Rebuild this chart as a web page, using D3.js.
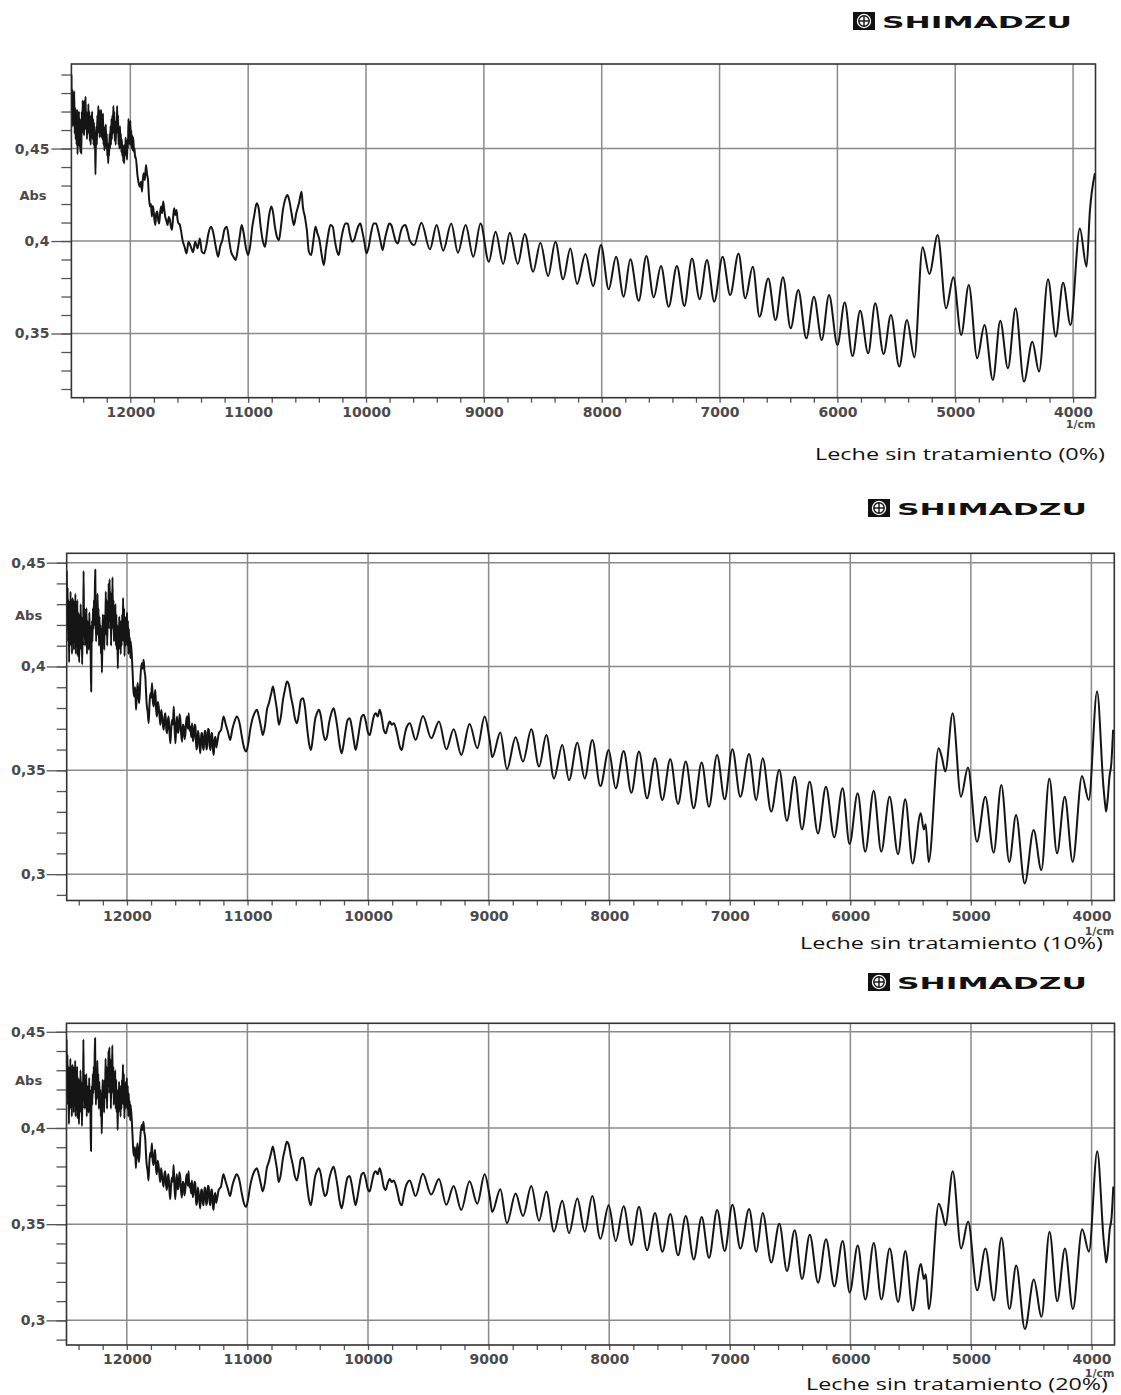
<!DOCTYPE html>
<html>
<head>
<meta charset="utf-8">
<script src="https://cdn.jsdelivr.net/npm/d3@7"></script>
<style>
    body { margin: 0; background: #fff; }
    svg { display: block; }
    .tick text { font-family: "DejaVu Sans", sans-serif; font-weight: bold; fill: #4a4a4a; }
    .tick line { stroke: #555; stroke-width: 1.3; }
</style>
</head>
<body>
<div id="chart"></div>
<script>
// ---- data: [wavenumber (1/cm), Abs] ----
const xMajor = [12000, 11000, 10000, 9000, 8000, 7000, 6000, 5000, 4000];
const yMajor0 = [0.35, 0.4, 0.45];
const yLabels0 = ["0,35", "0,4", "0,45"];
const yMajor10 = [0.3, 0.35, 0.4, 0.45];
const yLabels10 = ["0,3", "0,35", "0,4", "0,45"];
const captions = ["Leche sin tratamiento (0%)", "Leche sin tratamiento (10%)", "Leche sin tratamiento (20%)"];

const spec0 = [
    [12500,0.490],[12496,0.470],[12492,0.482],[12488,0.462],[12484,0.476],[12480,0.466],[12476,0.481],[12472,0.458],
    [12468,0.472],[12464,0.455],[12460,0.468],[12456,0.452],[12452,0.471],[12448,0.447],[12444,0.463],[12440,0.458],
    [12436,0.470],[12432,0.451],[12428,0.466],[12424,0.448],[12420,0.462],[12416,0.447],[12412,0.470],[12408,0.458],
    [12404,0.476],[12400,0.462],[12396,0.474],[12392,0.457],[12388,0.476],[12384,0.463],[12380,0.478],[12376,0.460],
    [12372,0.470],[12368,0.455],[12364,0.468],[12360,0.458],[12356,0.474],[12352,0.460],[12348,0.470],[12344,0.454],
    [12340,0.462],[12336,0.452],[12332,0.468],[12328,0.457],[12324,0.470],[12320,0.455],[12316,0.466],[12312,0.452],
    [12308,0.464],[12304,0.450],[12300,0.458],[12296,0.436],[12292,0.455],[12288,0.462],[12284,0.452],[12280,0.468],
    [12276,0.458],[12272,0.473],[12268,0.462],[12264,0.471],[12260,0.456],[12256,0.469],[12252,0.460],[12248,0.471],
    [12244,0.456],[12240,0.466],[12236,0.455],[12232,0.469],[12228,0.452],[12224,0.462],[12220,0.449],[12216,0.458],
    [12212,0.452],[12208,0.463],[12204,0.450],[12200,0.458],[12196,0.446],[12192,0.453],[12188,0.442],[12184,0.450],
    [12180,0.446],[12176,0.458],[12172,0.450],[12168,0.462],[12164,0.452],[12160,0.466],[12156,0.455],[12152,0.468],
    [12148,0.458],[12144,0.473],[12140,0.462],[12136,0.470],[12132,0.454],[12128,0.462],[12124,0.452],[12120,0.465],
    [12116,0.458],[12112,0.473],[12108,0.460],[12104,0.468],[12100,0.452],[12096,0.460],[12092,0.450],[12088,0.462],
    [12084,0.453],[12080,0.458],[12076,0.448],[12072,0.455],[12068,0.446],[12064,0.452],[12060,0.443],[12056,0.449],
    [12052,0.442],[12048,0.452],[12044,0.446],[12040,0.456],[12036,0.447],[12032,0.452],[12028,0.444],[12024,0.455],
    [12020,0.450],[12016,0.466],[12012,0.456],[12008,0.464],[12004,0.452],[12000,0.465],[11996,0.452],[11992,0.460],
    [11988,0.450],[11984,0.457],[11980,0.449],[11976,0.456],[11972,0.452],[11968,0.448],[11964,0.450],[11960,0.445],
    [11956,0.446],
    [11938,0.4348],[11928,0.4310],[11918,0.4294],[11909,0.4320],[11901,0.4267],[11894,0.4330],[11887,0.4366],[11877,0.4330],
    [11867,0.4411],[11858,0.4360],[11850,0.433],[11842,0.4240],[11834,0.4186],[11825,0.4200],[11817,0.4132],[11811,0.4190],
    [11805,0.4177],[11796,0.4120],[11788,0.4086],[11780,0.4150],[11771,0.4159],[11763,0.4110],[11755,0.4095],[11746,0.4160],
    [11738,0.4186],[11730,0.4150],[11721,0.4213],[11712,0.4170],[11704,0.4132],[11694,0.4110],[11684,0.4086],[11674,0.4130],
    [11664,0.4114],[11656,0.4080],[11647,0.406],[11638,0.4120],[11628,0.4177],[11618,0.4140],[11608,0.4168],[11600,0.4120],
    [11591,0.4095],[11581,0.4090],[11571,0.406],[11557,0.4005],[11540,0.3969],
    [11523,0.3933],[11506,0.3996],[11487,0.397],[11467,0.394],[11450,0.3996],[11430,0.396],[11410,0.4014],[11393,0.3942],
    [11374,0.3933],[11354,0.3978],[11337,0.4041],[11314,0.4077],[11295,0.4041],[11275,0.3969],[11255,0.3915],[11238,0.3969],
    [11219,0.4005],[11202,0.406],[11182,0.4077],[11162,0.4005],[11145,0.3942],[11125,0.3915],[11106,0.3897],[11089,0.3951],
    [11072,0.4023],[11055,0.4086],[11038,0.4041],[11021,0.3969],[11001,0.3924],[10984,0.3969],[10965,0.4077],[10948,0.414],
    [10928,0.4204],[10911,0.4177],[10894,0.4077],[10874,0.3996],[10857,0.3969],[10841,0.4041],[10824,0.4132],[10804,0.4186],
    [10790,0.4159],[10773,0.4077],[10756,0.4023],[10739,0.4005],[10722,0.4077],[10705,0.4168],[10683,0.4231],[10666,0.4249],
    [10649,0.4213],[10632,0.415],[10612,0.4086],[10592,0.415],[10569,0.4204],[10547,0.4267],[10536,0.4186],[10519,0.4132],
    [10502,0.4059],[10485,0.3942],[10465,0.3924],[10448,0.3996],[10429,0.4077],[10412,0.4041],[10395,0.4005],[10378,0.3933],
    [10358,0.387],[10341,0.3951],[10324,0.4023],[10302,0.4086],[10282,0.4077],[10265,0.4005],[10245,0.3942],[10231,0.3924],
    [10214,0.3996],[10195,0.4059],[10175,0.4095],[10155,0.4095],[10138,0.4041],[10118,0.3996],[10101,0.4005],[10085,0.4041],
    [10068,0.4077],[10048,0.4095],[10034,0.4059],[10014,0.3996],[9997,0.3933],[9977,0.3969],[9958,0.4041],[9935,0.4095],
    [9915,0.4095],[9898,0.4059],[9879,0.4005],[9859,0.3951],[9842,0.4005],[9822,0.4059],[9802,0.4095],[9785,0.4086],
    [9766,0.4041],[9746,0.3996],[9729,0.3987],[9709,0.4041],[9690,0.4077],[9667,0.4086],[9647,0.405],[9630,0.4005],
    [9591,0.3978],
    [9530,0.4099],[9458,0.3955],[9401,0.4086],[9345,0.3948],[9277,0.4095],[9220,0.3937],[9155,0.4086],[9090,0.3915],
    [9028,0.4095],[8958,0.3888],[8901,0.4050],[8836,0.3876],[8780,0.4045],[8712,0.3876],[8653,0.4038],[8582,0.3834],
    [8520,0.3991],[8455,0.3811],[8393,0.3996],[8328,0.3793],[8266,0.3960],[8209,0.3768],[8138,0.3930],[8073,0.3757],
    [8006,0.3978],[7941,0.3739],[7878,0.3915],[7814,0.3699],[7757,0.3901],[7686,0.3677],[7621,0.3919],[7559,0.3695],
    [7497,0.3865],[7432,0.3645],[7362,0.3865],[7299,0.3649],[7234,0.3906],[7169,0.3685],[7107,0.3897],[7045,0.3672],
    [6974,0.3915],[6910,0.3708],[6839,0.3933],[6782,0.3690],[6718,0.3861],[6661,0.3591],[6587,0.3798],[6525,0.3573],
    [6462,0.3804],[6397,0.3528],[6332,0.3735],[6264,0.3474],[6199,0.3699],[6133,0.3465],[6071,0.3708],[6000,0.3438],
    [5938,0.3667],[5872,0.3378],[5807,0.3623],[5739,0.3393],[5679,0.3663],[5608,0.3389],[5546,0.3600],[5475,0.3321],
    [5410,0.3573],[5347,0.3371],[5277,0.3966],[5220,0.3822],[5149,0.4032],[5078,0.3636],[5016,0.3804],[4950,0.3492],
    [4885,0.3762],[4814,0.3366],[4752,0.3546],[4681,0.3249],[4618,0.3569],[4553,0.3312],[4488,0.3636],[4417,0.3240],
    [4346,0.3456],[4289,0.3294],[4213,0.3793],[4147,0.3483],[4085,0.3775],[4022,0.3546],[3943,0.4068],[3886,0.3861],
    [3858,0.4159],[3815,0.4366]
];

const spec10 = [
    [12500,0.446],[12496,0.425],[12492,0.438],[12488,0.412],[12484,0.432],[12480,0.402],[12476,0.428],[12472,0.415],
    [12468,0.436],[12464,0.410],[12460,0.430],[12456,0.406],[12452,0.433],[12448,0.412],[12444,0.432],[12440,0.408],
    [12436,0.430],[12432,0.415],[12428,0.435],[12424,0.406],[12420,0.428],[12416,0.412],[12412,0.432],[12408,0.405],
    [12404,0.426],[12400,0.410],[12396,0.402],[12392,0.425],[12388,0.408],[12384,0.430],[12380,0.412],[12376,0.424],
    [12372,0.401],[12368,0.418],[12364,0.410],[12360,0.446],[12356,0.418],[12352,0.428],[12348,0.410],[12344,0.425],
    [12340,0.414],[12336,0.428],[12332,0.406],[12328,0.422],[12324,0.410],[12320,0.418],[12316,0.408],[12312,0.426],
    [12308,0.412],[12304,0.420],[12300,0.400],[12297,0.388],[12294,0.410],[12290,0.422],[12286,0.412],[12282,0.428],
    [12278,0.418],[12274,0.432],[12270,0.420],[12266,0.438],[12263,0.4466],[12260,0.425],[12256,0.412],[12252,0.428],
    [12248,0.415],[12244,0.435],[12240,0.418],[12236,0.428],[12232,0.410],[12228,0.424],[12224,0.412],[12220,0.420],
    [12216,0.406],[12212,0.418],[12208,0.397],[12204,0.412],[12200,0.425],[12196,0.414],[12192,0.422],[12188,0.408],
    [12184,0.425],[12180,0.415],[12176,0.436],[12172,0.420],[12168,0.432],[12164,0.410],[12160,0.428],[12156,0.418],
    [12152,0.440],[12148,0.422],[12144,0.442],[12140,0.418],[12136,0.436],[12132,0.410],[12128,0.430],[12124,0.420],
    [12120,0.443],[12116,0.418],[12112,0.432],[12108,0.412],[12104,0.428],[12100,0.415],[12096,0.430],[12092,0.410],
    [12088,0.425],[12084,0.408],[12080,0.420],[12076,0.399],[12072,0.416],[12068,0.408],[12064,0.424],[12060,0.410],
    [12056,0.422],[12052,0.406],[12048,0.420],[12044,0.410],[12040,0.425],[12036,0.415],[12032,0.433],[12028,0.412],
    [12024,0.428],[12020,0.405],[12016,0.420],[12012,0.410],[12008,0.424],[12004,0.412],[12000,0.426],[11996,0.410],
    [11992,0.422],[11988,0.406],[11984,0.418],[11980,0.408],[11976,0.414],[11972,0.404],[11968,0.412],
    [11953,0.3968],[11946,0.3880],[11939,0.3855],[11932,0.3900],[11925,0.3791],[11918,0.3870],[11911,0.392],[11904,0.3850],
    [11898,0.3823],[11888,0.3950],[11878,0.4016],[11870,0.3990],[11862,0.4032],[11855,0.3980],[11848,0.3952],[11842,0.3880],
    [11837,0.3823],[11828,0.3780],[11820,0.3727],[11813,0.3820],[11806,0.3871],[11799,0.3850],[11792,0.392],[11785,0.3830],
    [11778,0.3807],[11771,0.3860],[11765,0.3887],[11758,0.3790],[11751,0.3759],[11744,0.3830],[11737,0.3807],[11730,0.3760],
    [11723,0.3719],[11716,0.3790],[11709,0.3759],[11702,0.3720],[11695,0.3695],[11688,0.3760],[11681,0.3775],[11674,0.3700],
    [11668,0.3678],[11661,0.3740],[11654,0.3759],[11647,0.3680],[11640,0.363],[11633,0.3700],[11626,0.3743],[11619,0.3720],
    [11612,0.3807],[11605,0.3700],[11598,0.363],[11591,0.3720],[11585,0.3759],[11578,0.3680],[11571,0.3695],[11564,0.3770],
    [11557,0.3743],[11550,0.3670],[11543,0.3638],[11536,0.3720],[11529,0.3711],[11522,0.3650],[11515,0.3678],[11508,0.3740],
    [11501,0.3759],[11494,0.3700],[11488,0.3775],[11481,0.3690],[11474,0.3711],[11467,0.3660],[11460,0.3727],[11453,0.3640],
    [11446,0.3662],[11439,0.3720],[11432,0.3711],[11425,0.3600],[11418,0.3614],[11411,0.3690],[11404,0.3662],[11397,0.3610],
    [11391,0.3582],[11384,0.3680],[11377,0.3678],[11370,0.3610],[11363,0.3598],[11356,0.3690],[11349,0.3686],[11342,0.3600],
    [11335,0.3614],[11328,0.3700],[11321,0.3695],[11314,0.3620],[11307,0.3598],[11300,0.3680],[11294,0.3678],[11287,0.3600],
    [11280,0.3574],[11273,0.3650],[11266,0.3662],[11259,0.3610],[11252,0.363],
    [11238,0.3678],[11219,0.3695],[11199,0.3759],[11183,0.3727],[11163,0.3686],
    [11144,0.3646],[11127,0.3695],[11108,0.3735],[11089,0.3759],[11066,0.3727],[11047,0.3662],[11031,0.3614],[11011,0.359],
    [10994,0.363],[10978,0.3695],[10961,0.3743],[10942,0.3775],[10922,0.3791],[10906,0.3759],[10889,0.3711],[10873,0.367],
    [10856,0.3711],[10839,0.3791],[10823,0.3823],[10803,0.3871],[10789,0.3904],[10773,0.3855],[10756,0.3791],[10740,0.3719],
    [10723,0.3759],[10706,0.3839],[10690,0.3887],[10673,0.3928],[10657,0.3912],[10640,0.3855],[10623,0.3807],[10607,0.3751],
    [10590,0.3727],[10573,0.3775],[10557,0.3839],[10540,0.3847],[10524,0.3807],[10507,0.3711],[10490,0.363],[10474,0.3598],
    [10457,0.3662],[10440,0.3743],[10424,0.3775],[10407,0.3791],[10391,0.3759],[10374,0.3686],[10357,0.3646],[10341,0.3662],
    [10324,0.3727],[10305,0.3775],[10285,0.3799],[10269,0.3759],[10252,0.3695],[10236,0.3622],[10219,0.3582],[10202,0.363],
    [10186,0.3695],[10169,0.3743],[10152,0.3751],[10136,0.3711],[10119,0.3646],[10103,0.3598],[10086,0.3646],[10069,0.3711],
    [10053,0.3759],[10036,0.3767],[10019,0.3735],[10003,0.3686],[9986,0.367],[9970,0.3711],[9953,0.3759],[9936,0.3775],
    [9920,0.3759],[9903,0.3791],[9886,0.3751],[9870,0.3695],[9853,0.3678],[9837,0.3711],[9820,0.3735],[9803,0.3719],
    [9787,0.3727],[9770,0.3703],[9754,0.3662],[9737,0.3614],[9720,0.3598],[9704,0.3646],[9687,0.3695],[9670,0.3719],
    [9654,0.3727],
    [9606,0.3646],[9545,0.3762],[9476,0.3654],[9412,0.3735],[9351,0.3601],[9290,0.3698],[9227,0.3574],[9158,0.3723],
    [9094,0.3606],[9033,0.3759],[8990,0.3640],[8970,0.3563],[8903,0.3682],[8848,0.3505],[8776,0.3659],[8715,0.3542],
    [8646,0.3698],[8582,0.3518],[8521,0.3670],[8458,0.3461],[8389,0.3622],[8333,0.3453],[8264,0.3633],[8203,0.3461],
    [8140,0.3646],[8073,0.3424],[8004,0.3598],[7946,0.3413],[7880,0.3593],[7816,0.3392],[7753,0.3590],[7686,0.3365],
    [7620,0.3558],[7559,0.3357],[7493,0.3553],[7429,0.3338],[7365,0.3542],[7299,0.3317],[7233,0.3537],[7172,0.3325],
    [7105,0.3574],[7042,0.3360],[6978,0.3601],[6912,0.3373],[6840,0.3579],[6780,0.3357],
    [6727,0.3558],[6656,0.3301],[6589,0.3502],[6526,0.3257],[6462,0.3469],[6401,0.3215],[6337,0.3445],[6268,0.3196],
    [6202,0.3421],[6133,0.3177],[6064,0.3413],[6006,0.3145],[5939,0.3389],[5876,0.3108],[5806,0.3402],[5743,0.3108],
    [5674,0.3373],[5604,0.3096],[5544,0.3360],[5483,0.3051],[5416,0.3293],[5390,0.3215],[5375,0.3240],[5350,0.3059],
    [5267,0.3606],[5240,0.3562],[5212,0.3494],[5151,0.3775],[5082,0.3373],[5024,0.3514],[4949,0.3156],[4880,0.3373],
    [4811,0.3103],[4747,0.3429],[4681,0.3059],[4625,0.3285],[4553,0.2955],[4479,0.3212],[4415,0.3019],[4349,0.3461],
    [4285,0.3100],[4221,0.3373],[4155,0.3059],[4078,0.3473],[4022,0.3357],[3953,0.3879],[3900,0.3420],[3885,0.3330],
    [3878,0.3301],[3865,0.3360],[3850,0.3470],[3835,0.3530],[3820,0.3695]
];

// the 20% trace in the reference is the same curve as the 10% one
const spec20 = spec10.map(d => d.slice());

// ---- layout ----
const panels = [
    {data: spec0, left: 71.4, right: 1095.5, top: 64, bottom: 397.7, yDomain: [0.3153, 0.4957],
     yMajor: yMajor0, yLabels: yLabels0, yMinor: d3.range(0.32, 0.495, 0.01), labelPad: 2,
     xPad: 9, absY: 200, absX: 33, cmY: 427.5, capY: 460, capX: 815, capW: 290, logo: [853, 12]},
    {data: spec10, left: 66.7, right: 1114.3, top: 553.3, bottom: 900.5, yDomain: [0.2873, 0.4545],
     yMajor: yMajor10, yLabels: yLabels10, yMinor: d3.range(0.29, 0.455, 0.01), labelPad: 1,
     xPad: 10.5, absY: 620, absX: 28.6, cmY: 935, capY: 949, capX: 800, capW: 303, logo: [868, 499]},
    {data: spec20, left: 66.5, right: 1114.5, top: 1023.3, bottom: 1345, yDomain: [0.2872, 0.4544],
     yMajor: yMajor10, yLabels: yLabels10, yMinor: d3.range(0.29, 0.455, 0.01), labelPad: 1,
     xPad: 9, absY: 1085, absX: 28.6, cmY: 1377, capY: 1390, capX: 806, capW: 302, logo: [868, 973]}
];
const xDomain = [12500, 3810];

const svg = d3.select("#chart").append("svg")
    .attr("width", 1121)
    .attr("height", 1395);

panels.forEach(function (p, i) {
    let x = d3.scaleLinear().domain(xDomain).range([p.left, p.right]);
    let y = d3.scaleLinear().domain(p.yDomain).range([p.bottom, p.top]);
    let g = svg.append("g");

    // grid
    g.selectAll(".vgrid").data(xMajor).enter().append("line")
        .attr("x1", d => x(d)).attr("x2", d => x(d))
        .attr("y1", p.top).attr("y2", p.bottom)
        .attr("stroke", "#8a8a8a").attr("stroke-width", 1.5);
    g.selectAll(".hgrid").data(p.yMajor).enter().append("line")
        .attr("x1", p.left).attr("x2", p.right)
        .attr("y1", d => y(d)).attr("y2", d => y(d))
        .attr("stroke", "#8a8a8a").attr("stroke-width", 1.5);

    // y axis: minor + major ticks
    g.append("g").attr("transform", `translate(${p.left},0)`)
        .call(d3.axisLeft(y).tickValues(p.yMinor).tickSize(10).tickFormat(""))
        .call(a => a.select(".domain").remove());
    g.append("g").attr("transform", `translate(${p.left},0)`)
        .call(d3.axisLeft(y).tickValues(p.yMajor).tickSize(20).tickPadding(p.labelPad)
            .tickFormat((d, k) => p.yLabels[k]))
        .call(a => a.select(".domain").remove())
        .selectAll("text").style("font-size", "14px");

    // x axis: small ticks every 200, labels at 1000s
    g.append("g").attr("transform", `translate(0,${p.bottom})`)
        .call(d3.axisBottom(x).tickValues(d3.range(12400, 3801, -200)).tickSize(5).tickFormat(""))
        .call(a => a.select(".domain").remove());
    g.append("g").attr("transform", `translate(0,${p.bottom})`)
        .call(d3.axisBottom(x).tickValues(xMajor).tickSize(0).tickPadding(p.xPad).tickFormat(d3.format("d")))
        .call(a => a.select(".domain").remove())
        .selectAll("text").style("font-size", "14px");

    // frame
    g.append("rect")
        .attr("x", p.left).attr("y", p.top)
        .attr("width", p.right - p.left).attr("height", p.bottom - p.top)
        .attr("fill", "none").attr("stroke", "#333").attr("stroke-width", 1.6);

    // trace
    svg.append("clipPath").attr("id", "clip" + i).append("rect")
        .attr("x", p.left).attr("y", p.top)
        .attr("width", p.right - p.left).attr("height", p.bottom - p.top);
    let line = d3.line().x(d => x(d[0])).y(d => y(d[1])).curve(d3.curveMonotoneX);
    g.append("path").datum(p.data)
        .attr("clip-path", `url(#clip${i})`)
        .attr("d", line)
        .attr("fill", "none").attr("stroke", "#151515")
        .attr("stroke-width", 2).attr("stroke-linejoin", "round");

    // texts
    g.append("text").attr("x", p.absX).attr("y", p.absY)
        .attr("text-anchor", "middle")
        .style("font-family", "DejaVu Sans").style("font-weight", "bold")
        .style("font-size", "13px").style("fill", "#4a4a4a").text("Abs");
    g.append("text").attr("x", p.right).attr("y", p.cmY)
        .attr("text-anchor", "end")
        .style("font-family", "DejaVu Sans").style("font-weight", "bold")
        .style("font-size", "11px").style("fill", "#4a4a4a").text("1/cm");
    g.append("text").attr("x", p.capX).attr("y", p.capY)
        .attr("textLength", p.capW).attr("lengthAdjust", "spacingAndGlyphs")
        .style("font-family", "Open Sans").style("font-size", "17px")
        .style("fill", "#111").text(captions[i]);

    // SHIMADZU logo
    let lx = p.logo[0], ly = p.logo[1];
    let logo = g.append("g").attr("transform", `translate(${lx},${ly})`);
    logo.append("rect").attr("width", 22).attr("height", 18).attr("fill", "#111");
    logo.append("circle").attr("cx", 11).attr("cy", 9).attr("r", 7.2).attr("fill", "#fff");
    logo.append("circle").attr("cx", 11).attr("cy", 9).attr("r", 5.2)
        .attr("fill", "none").attr("stroke", "#111").attr("stroke-width", 1.4);
    logo.append("line").attr("x1", 5.8).attr("x2", 16.2).attr("y1", 9).attr("y2", 9)
        .attr("stroke", "#111").attr("stroke-width", 1.4);
    logo.append("line").attr("x1", 11).attr("x2", 11).attr("y1", 3.8).attr("y2", 14.2)
        .attr("stroke", "#111").attr("stroke-width", 1.4);
    logo.append("text").attr("x", 29).attr("y", 16)
        .attr("textLength", 190).attr("lengthAdjust", "spacingAndGlyphs")
        .style("font-family", "DejaVu Sans").style("font-weight", "bold")
        .style("font-size", "16px").style("fill", "#111").text("SHIMADZU");
});
</script>
</body>
</html>
